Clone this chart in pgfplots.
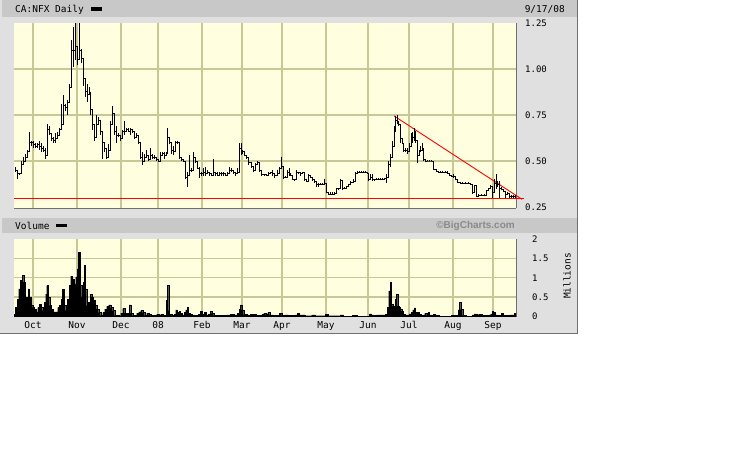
\documentclass[border=0pt]{standalone}
\usepackage{fontspec}
\setmainfont{DejaVu Sans Mono}
\newfontfamily\bcfont{Liberation Sans}
\usepackage{pgfplots}
\pgfplotsset{compat=1.18}
\usepackage{pgfplotstable}
\definecolor{panel}{HTML}{E0E0E0}
\definecolor{band}{HTML}{C8C8C8}
\definecolor{plotbg}{HTML}{FFFFE0}
\definecolor{gridc}{HTML}{C8C896}
\definecolor{edge}{HTML}{707070}
\definecolor{bcgray}{HTML}{8A8A8A}

\pgfplotstableread{
x lo hi c
15 0.44 0.47 0.45
17 0.40 0.44 0.43
19 0.425 0.435 0.43
21 0.43 0.50 0.48
23 0.48 0.52 0.50
25 0.51 0.54 0.52
27 0.53 0.56 0.55
29 0.56 0.66 0.60
31 0.58 0.61 0.60
33 0.57 0.61 0.59
35 0.57 0.60 0.58
37 0.57 0.60 0.59
39 0.56 0.61 0.58
41 0.55 0.60 0.57
43 0.55 0.58 0.56
45 0.51 0.57 0.53
47 0.56 0.70 0.67
49 0.64 0.69 0.65
51 0.61 0.64 0.62
53 0.60 0.63 0.61
55 0.60 0.65 0.62
57 0.62 0.66 0.64
59 0.64 0.68 0.67
61 0.68 0.81 0.70
63 0.74 0.86 0.80
65 0.77 0.81 0.79
67 0.75 0.83 0.82
69 0.82 0.92 0.90
71 0.92 1.16 1.10
73 1.01 1.23 1.10
75 1.05 1.25 1.12
77 1.02 1.12 1.05
79 1.08 1.25 1.10
81 1.03 1.11 1.06
83 0.91 1.00 0.95
85 0.85 0.94 0.88
87 0.82 0.92 0.86
89 0.86 0.90 0.87
90 0.75 0.80 0.78
92 0.67 0.78 0.70
94 0.61 0.65 0.63
96 0.66 0.75 0.70
98 0.70 0.74 0.72
100 0.64 0.68 0.66
102 0.51 0.64 0.60
104 0.55 0.60 0.57
106 0.51 0.55 0.52
108 0.53 0.59 0.56
110 0.59 0.72 0.70
112 0.74 0.80 0.76
114 0.64 0.70 0.66
116 0.60 0.69 0.64
118 0.63 0.65 0.64
120 0.61 0.64 0.62
122 0.65 0.67 0.66
124 0.64 0.72 0.66
126 0.66 0.68 0.67
128 0.66 0.68 0.66
130 0.64 0.68 0.67
132 0.65 0.67 0.66
134 0.62 0.64 0.63
136 0.63 0.65 0.64
138 0.59 0.63 0.60
140 0.51 0.59 0.52
142 0.48 0.55 0.50
144 0.51 0.54 0.52
146 0.52 0.56 0.53
148 0.50 0.53 0.51
150 0.51 0.57 0.53
152 0.51 0.54 0.52
154 0.51 0.53 0.52
156 0.50 0.52 0.51
158 0.50 0.51 0.50
160 0.51 0.55 0.53
162 0.53 0.55 0.54
164 0.51 0.55 0.53
166 0.53 0.55 0.54
167.5 0.60 0.68 0.63
169.5 0.59 0.62 0.60
171.5 0.54 0.59 0.56
173.5 0.53 0.58 0.55
175.5 0.59 0.61 0.60
177.5 0.59 0.61 0.60
179.5 0.51 0.55 0.52
181.5 0.50 0.52 0.51
183.5 0.50 0.51 0.50
185.5 0.40 0.46 0.41
187.5 0.36 0.44 0.42
189.5 0.44 0.53 0.45
191.5 0.44 0.46 0.45
193.5 0.51 0.55 0.52
195.5 0.49 0.51 0.50
197.5 0.46 0.47 0.46
199.5 0.41 0.47 0.43
201.5 0.42 0.44 0.43
203.5 0.42 0.46 0.44
205.5 0.42 0.47 0.43
207.5 0.43 0.45 0.44
209.5 0.42 0.44 0.43
211.5 0.42 0.43 0.42
213.5 0.43 0.51 0.44
215.5 0.42 0.44 0.43
217.5 0.42 0.44 0.42
219.5 0.42 0.44 0.43
221.5 0.42 0.44 0.43
223.5 0.42 0.44 0.43
225.5 0.42 0.43 0.42
227.5 0.43 0.44 0.43
229 0.44 0.47 0.45
231 0.44 0.46 0.45
233 0.43 0.45 0.44
235 0.42 0.44 0.43
237 0.43 0.46 0.44
239 0.44 0.60 0.57
241 0.53 0.60 0.55
242.5 0.54 0.56 0.55
244.5 0.53 0.54 0.53
246.5 0.51 0.52 0.52
248.5 0.48 0.51 0.49
251 0.46 0.48 0.47
253 0.44 0.46 0.45
255 0.47 0.49 0.48
257 0.48 0.50 0.49
259 0.44 0.47 0.45
261 0.42 0.43 0.425
264 0.42 0.43 0.425
266.5 0.42 0.43 0.42
268.5 0.42 0.44 0.43
270 0.43 0.44 0.44
272.5 0.42 0.45 0.43
274.5 0.41 0.42 0.42
277 0.42 0.45 0.43
279 0.45 0.47 0.46
281 0.46 0.52 0.47
283 0.40 0.42 0.41
285 0.41 0.42 0.41
287 0.42 0.45 0.44
289 0.42 0.46 0.43
290.5 0.42 0.43 0.42
292 0.40 0.41 0.40
294 0.39 0.40 0.40
296 0.43 0.45 0.44
298 0.43 0.44 0.44
300 0.42 0.44 0.43
302 0.43 0.44 0.44
304 0.39 0.41 0.40
306 0.39 0.40 0.39
308 0.42 0.43 0.42
310 0.41 0.42 0.41
312 0.39 0.41 0.40
314 0.38 0.39 0.39
316 0.36 0.38 0.37
318 0.36 0.38 0.37
320 0.37 0.38 0.37
322 0.37 0.38 0.37
324 0.37 0.40 0.38
326 0.33 0.35 0.33
328 0.32 0.33 0.32
330 0.32 0.33 0.32
332 0.32 0.33 0.32
334.5 0.325 0.33 0.325
336.5 0.33 0.35 0.35
338 0.34 0.35 0.35
340 0.39 0.40 0.395
342 0.34 0.36 0.35
344 0.35 0.36 0.35
346.5 0.36 0.365 0.36
348.5 0.37 0.375 0.37
350.5 0.38 0.39 0.385
353 0.39 0.40 0.39
355 0.39 0.44 0.43
357 0.44 0.445 0.44
359 0.44 0.445 0.44
361 0.44 0.445 0.44
363 0.44 0.445 0.44
365 0.44 0.445 0.44
367 0.43 0.435 0.43
368.5 0.39 0.43 0.40
370.5 0.40 0.43 0.41
372.5 0.39 0.43 0.40
374.5 0.39 0.40 0.40
376.5 0.40 0.405 0.40
378.5 0.40 0.405 0.40
380.5 0.40 0.405 0.40
382.5 0.40 0.405 0.40
384.5 0.40 0.41 0.405
386.5 0.38 0.43 0.41
388.5 0.41 0.50 0.48
390.5 0.47 0.54 0.52
392.5 0.53 0.61 0.58
394 0.60 0.69 0.66
395.5 0.67 0.745 0.72
397 0.70 0.75 0.71
398.5 0.69 0.72 0.70
400 0.60 0.70 0.62
402 0.59 0.60 0.595
403.5 0.55 0.59 0.56
405.5 0.55 0.57 0.56
407.5 0.54 0.57 0.55
409.5 0.57 0.60 0.58
411 0.59 0.65 0.64
412.7 0.60 0.66 0.63
414 0.61 0.68 0.66
415.5 0.60 0.63 0.61
417 0.49 0.60 0.53
419 0.54 0.56 0.55
420.5 0.55 0.58 0.56
422 0.56 0.60 0.57
423.5 0.50 0.56 0.51
425.5 0.50 0.505 0.50
427.5 0.50 0.505 0.50
429.5 0.50 0.505 0.50
431.5 0.50 0.505 0.50
433.5 0.45 0.46 0.455
436 0.44 0.45 0.445
438.5 0.44 0.445 0.44
440.5 0.435 0.445 0.44
442.5 0.44 0.445 0.44
445 0.44 0.445 0.44
447.5 0.43 0.445 0.435
449.5 0.42 0.435 0.42
451.5 0.415 0.42 0.415
453.5 0.41 0.43 0.415
455.5 0.40 0.415 0.40
457.5 0.38 0.40 0.385
460 0.38 0.385 0.38
462.5 0.38 0.385 0.38
465 0.38 0.385 0.38
468 0.375 0.385 0.38
470 0.37 0.38 0.375
472 0.32 0.37 0.33
474 0.365 0.37 0.365
476 0.31 0.315 0.31
478.5 0.315 0.32 0.315
481 0.315 0.32 0.315
484 0.315 0.32 0.315
486.5 0.34 0.345 0.34
488.5 0.34 0.355 0.35
490.5 0.35 0.37 0.36
492 0.30 0.36 0.33
494 0.36 0.40 0.38
496 0.35 0.43 0.37
497.5 0.36 0.39 0.37
499 0.30 0.39 0.35
501 0.34 0.36 0.345
503 0.33 0.34 0.335
505 0.30 0.33 0.32
507 0.32 0.33 0.325
509 0.30 0.32 0.31
511 0.30 0.315 0.31
513 0.30 0.315 0.31
515 0.30 0.315 0.31
}\price

\pgfplotstableread{
x v
14 0.05
15.3 0.23
17 0.45
18.7 0.71
20.3 0.93
22 1.06
23.7 0.89
25.3 0.50
27 0.37
28 0.71
29.3 0.50
31 0.28
32.7 0.23
34.3 0.19
36 0.12
37.7 0.23
39.3 0.32
41 0.23
42.7 0.15
44.3 0.37
45.7 0.58
46.7 0.80
48 0.50
49.7 0.28
51.3 0.19
53 0.12
55.3 0.12
57.7 0.23
59.3 0.28
61 0.45
62.3 0.70
64 0.28
65.7 0.15
67.3 0.45
69 0.80
70.7 1.04
72.3 0.97
74 0.84
75.7 1.02
77 1.23
78.3 1.65
80 0.80
81.7 0.50
83 0.89
84 1.32
85.3 0.71
86.7 0.28
88.3 0.37
90 0.58
91.7 0.50
93.3 0.41
95 0.28
96.7 0.19
98.7 0.10
100.7 0.03
102.7 0.10
104.7 0.19
106.7 0.26
108.7 0.30
110.7 0.23
112.7 0.15
114.7 0.03
116.7 0.03
118.7 0.02
120.7 0.09
122.7 0.21
124.7 0.09
126.7 0.09
129 0.30
130.7 0.09
132.7 0.03
134.7 0.03
136.7 0.09
138.7 0.12
140.7 0.15
142.7 0.10
144.7 0.03
146.7 0.09
148.7 0.05
150.7 0.03
152.7 0.03
154.7 0.03
156.7 0.06
158.7 0.03
160.7 0.06
162.7 0.03
164.7 0.03
166 0.41
167.3 0.80
168.7 0.15
169.5 0.05
171.7 0.03
174.3 0.05
175.7 0.17
177 0.10
179 0.14
180.3 0.08
182.3 0.04
184.3 0.11
185.7 0.17
187 0.23
188.3 0.08
190.3 0.05
192.3 0.03
195.7 0.03
198.3 0.05
200.3 0.13
202.3 0.06
204.3 0.11
206.3 0.04
208.3 0.06
210.3 0.14
211.7 0.08
213.7 0.03
217 0.03
220.3 0.03
223.7 0.03
227 0.04
230.3 0.06
233.7 0.04
237 0.08
239 0.18
240.3 0.30
241.7 0.17
243.7 0.05
247 0.03
250.3 0.06
253 0.06
256.3 0.03
259.7 0.03
261.7 0.05
263.7 0.08
265.7 0.05
267.7 0.10
269.7 0.04
273 0.03
276.3 0.03
279 0.08
281.7 0.03
285 0.04
288.3 0.03
291.7 0.03
295 0.04
297 0.08
299 0.04
301.7 0.04
305 0.02
308.3 0.02
311.7 0.04
315 0.02
318.3 0.02
321.7 0.02
325 0.05
328.3 0.02
331.7 0.02
335 0.02
338.3 0.02
340 0.04
343 0.01
350 0.01
352 0.035
357 0.01
367 0.01
369.3 0.07
371.3 0.04
373.3 0.03
376.7 0.04
380 0.04
383.3 0.04
385.3 0.06
387.3 0.24
388.7 0.66
390 0.88
391.3 0.31
392.7 0.27
394 0.25
395.3 0.45
396.3 0.58
397.7 0.27
399 0.23
400.3 0.20
401.7 0.14
403.3 0.05
405.3 0.04
407.3 0.04
409.3 0.07
411.3 0.11
412.7 0.17
414 0.22
415.3 0.11
416.7 0.08
418 0.11
419.3 0.06
421.3 0.03
423.3 0.04
424.7 0.08
426.7 0.03
428 0.10
429.3 0.04
431.3 0.03
433.3 0.06
435.3 0.03
438.7 0.01
442 0.01
445.3 0.01
448.7 0.01
451.3 0.03
455.3 0.03
458 0.17
459.3 0.36
460.7 0.18
462.7 0.03
466 0.01
469.3 0.01
472 0.04
474 0.07
476.7 0.04
478.7 0.06
482 0.03
485.3 0.03
488.7 0.04
490.7 0.07
492 0.13
493.3 0.10
495.3 0.04
497.3 0.03
499.3 0.03
501.3 0.08
503.3 0.03
506.7 0.03
510 0.04
512.7 0.04
514 0.08
515.8 0.08
}\volume

\pgfplotsset{
  bcaxis/.style={
    scale only axis,
    width=502pt,
    xmin=14, xmax=516,
    axis x line*=bottom, axis y line*=right,
    axis line style={draw=edge, line width=1pt},
    axis background/.style={fill=plotbg},
    major tick length=0pt,
    xtick={33,77,121,158,202,242,282,326,368,409,453,493},
    grid=major,
    major grid style={draw=gridc, line width=1.3pt},
    tick label style={font=\fontsize{9}{10}\selectfont, inner sep=0pt},
    yticklabel style={anchor=west, xshift=9pt},
    extra y tick style={grid=none},
  }
}

\begin{document}
\begin{tikzpicture}[x=1pt,y=1pt]
\path[use as bounding box, fill=white] (0,0) rectangle (738,475);
% panel
\fill[panel] (0,141) rectangle (578,475);
\draw[edge, line width=1pt] (577.5,141) -- (577.5,475);
\draw[edge, line width=1pt] (0,141.5) -- (578,141.5);
% header bands
\fill[band] (2,458) rectangle (576.5,475);
\fill[band] (2,242) rectangle (576.5,257);
\node[anchor=west, inner sep=0pt, font=\fontsize{9.5}{10}\selectfont] at (15,465.5) {CA:NFX Daily};
\fill[black] (91,464) rectangle (102,467.5);
\node[anchor=east, inner sep=0pt, font=\fontsize{9.5}{10}\selectfont] at (565,465.5) {9/17/08};
\node[anchor=west, inner sep=0pt, font=\fontsize{9.5}{10}\selectfont] at (15,249.5) {Volume};
\fill[black] (56,248) rectangle (67,251.5);
\node[anchor=east, inner sep=0pt, text=bcgray, font=\bcfont\bfseries\fontsize{10}{11}\selectfont] at (515,249.5) {\textcopyright BigCharts.com};
\node[rotate=90, inner sep=0pt, font=\fontsize{9.5}{10}\selectfont] at (567,199) {Millions};

% price panel
\begin{axis}[bcaxis,
  at={(14pt,267pt)}, anchor=south west,
  height=185pt,
  ymin=0.2446, ymax=1.25,
  xticklabels={},
  ytick={0.5,0.75,1.0},
  yticklabels={0.50,0.75,1.00},
  extra y ticks={0.25,1.25},
  extra y tick labels={0.25,1.25},
  clip=false,
]
\addplot[red, line width=1pt, mark=none, forget plot] coordinates {(14,0.295) (524,0.295)};
\addplot[red, line width=0.9pt, mark=none, forget plot] coordinates {(394,0.745) (522,0.292)};
\addplot[black, line width=0.9pt, const plot, mark=none, forget plot] table[x=x, y=c] {\price};
\addplot[draw=none, mark=none, forget plot,
  error bars/.cd, y dir=plus, y explicit,
  error mark=none, error bar style={draw=black, line width=0.9pt}]
  table[x=x, y=lo, y error expr=\thisrow{hi}-\thisrow{lo}] {\price};
\end{axis}

% volume panel
\begin{axis}[bcaxis,
  at={(14pt,158.5pt)}, anchor=south west,
  height=77.5pt,
  ymin=0, ymax=2,
  xticklabels={Oct,Nov,Dec,08,Feb,Mar,Apr,May,Jun,Jul,Aug,Sep},
  xticklabel style={anchor=north, yshift=-5pt, font=\fontsize{9.5}{10}\selectfont},
  ytick={0.5,1,1.5},
  yticklabels={0.5,1,1.5},
  extra y ticks={0,2},
  extra y tick labels={0,2},
  yticklabel style={xshift=7pt},
]
\addplot[const plot, mark=none, fill=black, draw=black, line width=0.4pt] table[x=x, y=v] {\volume} \closedcycle;
\end{axis}
\end{tikzpicture}
\end{document}
